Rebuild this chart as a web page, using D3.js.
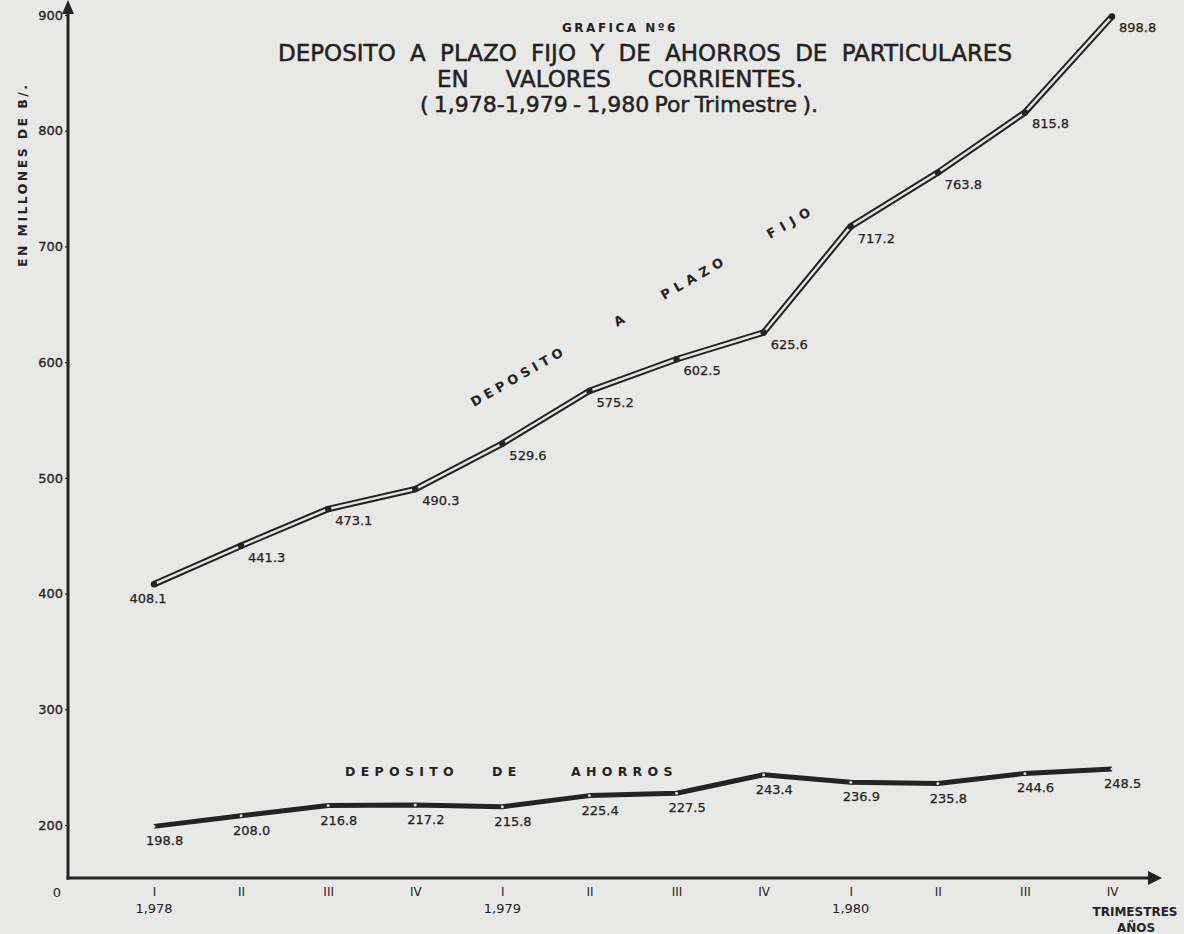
<!DOCTYPE html>
<html>
<head>
<meta charset="utf-8">
<script src="https://cdn.jsdelivr.net/npm/d3@7"></script>
<style>
  html, body { margin: 0; padding: 0; background: #e8e8e6; }
  svg { display: block; }
</style>
</head>
<body>
<svg id="chart" width="1184" height="934"></svg>
<script>
// ---------- DATA ----------
const quarters = ["I", "II", "III", "IV", "I", "II", "III", "IV", "I", "II", "III", "IV"];
const years = ["1,978", "1,979", "1,980"];
const plazoFijo = [408.1, 441.3, 473.1, 490.3, 529.6, 575.2, 602.5, 625.6, 717.2, 763.8, 815.8, 898.8];
const ahorros = [198.8, 208.0, 216.8, 217.2, 215.8, 225.4, 227.5, 243.4, 236.9, 235.8, 244.6, 248.5];
const yTicks = [200, 300, 400, 500, 600, 700, 800, 900];
const titleLines = [
  "DEPOSITO A PLAZO FIJO Y DE AHORROS DE PARTICULARES",
  "EN VALORES CORRIENTES.",
  "( 1,978-1,979 - 1,980 Por Trimestre )."
];

// ---------- SETUP ----------
const ink = "#232323";
const paper = "#e8e8e6";
const svg = d3.select("#chart");
svg.append("rect").attr("width", 1184).attr("height", 934).attr("fill", paper);

const axisX0 = 68, axisY0 = 878;
const x = d3.scalePoint().domain(d3.range(quarters.length)).range([154, 1112]);
const y = d3.scaleLinear().domain([200, 900]).range([825, 15]);

const font = "'DejaVu Sans', 'Liberation Sans', sans-serif";

// fit a text to a target width by stretching only the word gaps
function fitWords(sel, target) {
  const node = sel.node();
  const natural = node.getComputedTextLength();
  const gaps = (sel.text().match(/ /g) || []).length;
  if (gaps > 0) sel.attr("word-spacing", (target - natural) / gaps);
}

// ---------- TITLES ----------
svg.append("text").attr("x", 620).attr("y", 32).attr("text-anchor", "middle")
  .attr("font-family", font).attr("font-weight", "bold").attr("font-size", 12)
  .attr("letter-spacing", 2.5).attr("fill", ink).text("GRAFICA Nº6");

const tl = [
  { x: 278, y: 61, w: 734, fs: 23 },
  { x: 437, y: 87, w: 366, fs: 23 },
  { x: 420, y: 112, w: 398, fs: 22 }
];
titleLines.forEach((t, i) => {
  const s = svg.append("text").attr("x", tl[i].x).attr("y", tl[i].y)
    .attr("font-family", font).attr("font-size", tl[i].fs).attr("fill", ink)
    .attr("stroke", ink).attr("stroke-width", 0.5)
    .text(t);
  fitWords(s, tl[i].w);
});

// ---------- AXES ----------
const yAxis = d3.axisLeft(y).tickValues(yTicks).tickSize(3).tickPadding(2);
const gy = svg.append("g").attr("transform", `translate(${axisX0},0)`).call(yAxis);
gy.select(".domain").remove();
gy.selectAll("line").attr("stroke", ink).attr("stroke-width", 1.2);
gy.selectAll("text").attr("font-family", font).attr("font-size", 13).attr("fill", ink)
  .attr("stroke", ink).attr("stroke-width", 0.3);

const xAxis = d3.axisBottom(x).tickSize(0).tickPadding(9).tickFormat(i => quarters[i]);
const gx = svg.append("g").attr("transform", `translate(0,${axisY0})`).call(xAxis);
gx.select(".domain").remove();
gx.selectAll("text").attr("font-family", font).attr("font-size", 12).attr("fill", ink);

// year labels under first quarter of each year
years.forEach((yr, k) => {
  svg.append("text").attr("x", x(k * 4)).attr("y", 913).attr("text-anchor", "middle")
    .attr("font-family", font).attr("font-size", 13).attr("fill", ink).text(yr);
});

// origin label
svg.append("text").attr("x", 57).attr("y", 897).attr("text-anchor", "middle")
  .attr("font-family", font).attr("font-size", 13).attr("fill", ink).text("0");

// axis lines with arrows
svg.append("line").attr("x1", axisX0).attr("y1", axisY0 + 1.5).attr("x2", axisX0).attr("y2", 8)
  .attr("stroke", ink).attr("stroke-width", 3);
svg.append("path").attr("d", `M${axisX0},0 L${axisX0 - 6},14 L${axisX0 + 6},14 Z`).attr("fill", ink);
svg.append("line").attr("x1", axisX0 - 1.5).attr("y1", axisY0).attr("x2", 1152).attr("y2", axisY0)
  .attr("stroke", ink).attr("stroke-width", 3);
svg.append("path").attr("d", `M1162,${axisY0} L1148,${axisY0 - 7} L1148,${axisY0 + 7} Z`).attr("fill", ink);

// axis titles
svg.append("text").attr("transform", "translate(27,176) rotate(-90)").attr("text-anchor", "middle")
  .attr("font-family", font).attr("font-weight", "bold").attr("font-size", 12.5).attr("fill", ink)
  .attr("textLength", 182).attr("lengthAdjust", "spacing").text("EN MILLONES DE B/.");
svg.append("text").attr("x", 1135).attr("y", 916).attr("text-anchor", "middle")
  .attr("font-family", font).attr("font-weight", "bold").attr("font-size", 12).attr("fill", ink)
  .text("TRIMESTRES");
svg.append("text").attr("x", 1136).attr("y", 932).attr("text-anchor", "middle")
  .attr("font-family", font).attr("font-weight", "bold").attr("font-size", 12).attr("fill", ink)
  .text("AÑOS");

// ---------- LINES ----------
const line = d3.line().x((d, i) => x(i)).y(d => y(d));

// Plazo fijo: double line
svg.append("path").datum(plazoFijo).attr("d", line).attr("fill", "none")
  .attr("stroke", ink).attr("stroke-width", 6.5).attr("stroke-linejoin", "miter");
svg.append("path").datum(plazoFijo).attr("d", line).attr("fill", "none")
  .attr("stroke", "#e4e4e2").attr("stroke-width", 2.4).attr("stroke-linejoin", "miter");
svg.selectAll(".pf-dot").data(plazoFijo).enter().append("circle")
  .attr("cx", (d, i) => x(i)).attr("cy", d => y(d)).attr("r", 3.2).attr("fill", ink);

// Ahorros: thick line
svg.append("path").datum(ahorros).attr("d", line).attr("fill", "none")
  .attr("stroke", ink).attr("stroke-width", 5).attr("stroke-linejoin", "round");
svg.selectAll(".ah-dot").data(ahorros).enter().append("circle")
  .attr("cx", (d, i) => x(i)).attr("cy", d => y(d)).attr("r", 1.5).attr("fill", "#d8d8d6");

// ---------- VALUE LABELS ----------
svg.selectAll(".pf-lab").data(plazoFijo).enter().append("text")
  .attr("x", (d, i) => i === 0 ? x(i) - 6 : x(i) + 7)
  .attr("y", (d, i) => y(d) + (i === 0 ? 19 : 16))
  .attr("text-anchor", (d, i) => i === 0 ? "middle" : "start")
  .attr("font-family", font).attr("font-size", 13).attr("fill", ink)
  .attr("stroke", ink).attr("stroke-width", 0.25)
  .text(d => d.toFixed(1));

svg.selectAll(".ah-lab").data(ahorros).enter().append("text")
  .attr("x", (d, i) => x(i) - 8)
  .attr("y", (d, i) => y(d) + 19)
  .attr("font-family", font).attr("font-size", 13).attr("fill", ink)
  .attr("stroke", ink).attr("stroke-width", 0.25)
  .text(d => d.toFixed(1));

// ---------- SERIES NAMES ----------
const angle = -29.9;
const wordsPF = [
  { t: "DEPOSITO", x: 474, y: 407, w: 104 },
  { t: "A", x: 617, y: 327, w: 10 },
  { t: "PLAZO", x: 664, y: 300, w: 70 },
  { t: "FIJO", x: 770, y: 239, w: 48 }
];
wordsPF.forEach(wd => {
  svg.append("text").attr("transform", `translate(${wd.x},${wd.y}) rotate(${angle})`)
    .attr("font-family", font).attr("font-weight", "bold").attr("font-size", 13).attr("fill", ink)
    .attr("textLength", wd.w).attr("lengthAdjust", "spacing").text(wd.t);
});

const wordsAH = [
  { t: "DEPOSITO", x: 345, y: 776 },
  { t: "DE", x: 492, y: 776 },
  { t: "AHORROS", x: 571, y: 776 }
];
wordsAH.forEach(wd => {
  svg.append("text").attr("x", wd.x).attr("y", wd.y)
    .attr("font-family", font).attr("font-weight", "bold").attr("font-size", 12.5).attr("fill", ink)
    .attr("letter-spacing", 5.3).text(wd.t);
});
</script>
</body>
</html>
